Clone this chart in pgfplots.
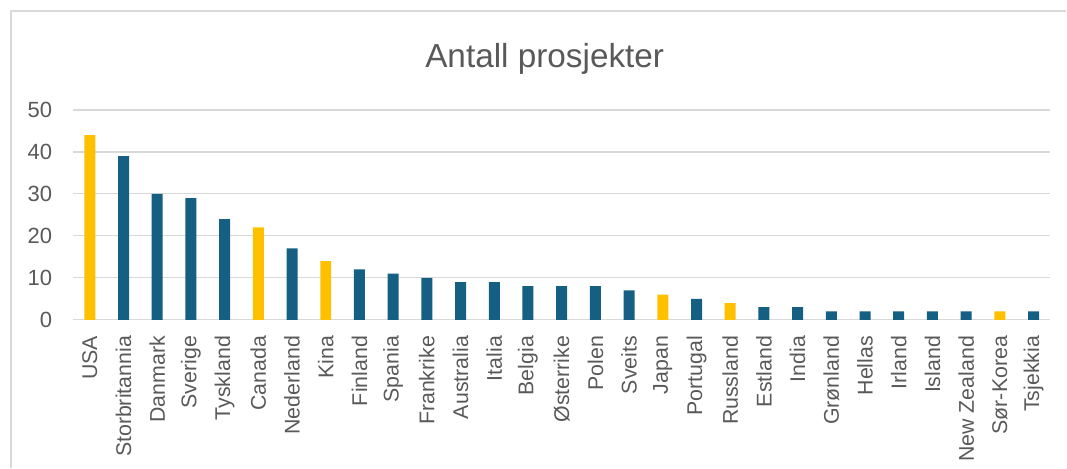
\documentclass[border=0pt]{standalone}
\usepackage{fontspec}
\setmainfont{Liberation Sans}
\usepackage{pgfplots}
\pgfplotsset{compat=1.18}
\definecolor{barblue}{HTML}{156082}
\definecolor{baryellow}{HTML}{FFC000}
\definecolor{gridgray}{HTML}{D9D9D9}
\definecolor{txtgray}{HTML}{595959}
\begin{document}
\begin{tikzpicture}
\path (0,0) rectangle (800.25pt,351pt);
\draw[gridgray, line width=0.9pt] (8.25pt,0) -- (8.25pt,342.75pt) -- (800.25pt,342.75pt);
\node[anchor=base, font=\fontsize{25}{30}\selectfont, text=txtgray] at (408.75pt,300pt) {Antall prosjekter};
\begin{axis}[
  at={(54.75pt,111pt)}, anchor=south west,
  scale only axis, width=733.5pt, height=157.5pt,
  xmin=-0.5, xmax=28.5, ymin=0, ymax=50,
  axis line style={draw=none},
  major tick length=0pt,
  ytick={0,10,20,30,40,50},
  ymajorgrids, grid style={gridgray, line width=0.9pt},
  xtick={0,...,28},
  xticklabels={USA,Storbritannia,Danmark,Sverige,Tyskland,Canada,Nederland,Kina,Finland,Spania,Frankrike,Australia,Italia,Belgia,Østerrike,Polen,Sveits,Japan,Portugal,Russland,Estland,India,Grønland,Hellas,Irland,Island,New Zealand,Sør-Korea,Tsjekkia},
  xticklabel style={rotate=90, anchor=east, inner sep=0pt, font=\fontsize{16}{19}\selectfont, text=txtgray},
  xticklabel shift=12pt,
  yticklabel style={anchor=east, inner sep=0pt, font=\fontsize{16.5}{19}\selectfont, text=txtgray},
  yticklabel shift=15.5pt,
  /pgf/number format/assume math mode=true,
  ybar, bar width=8.25pt, bar shift=0pt,
  clip=false,
]
\addplot[fill=barblue, draw=none] coordinates {
(1,39) (2,30) (3,29) (4,24) (6,17) (8,12) (9,11) (10,10) (11,9) (12,9) (13,8) (14,8) (15,8) (16,7) (18,5) (20,3) (21,3) (22,2) (23,2) (24,2) (25,2) (26,2) (28,2)
};
\addplot[fill=baryellow, draw=none] coordinates {
(0,44) (5,22) (7,14) (17,6) (19,4) (27,2)
};
\end{axis}
\end{tikzpicture}
\end{document}
